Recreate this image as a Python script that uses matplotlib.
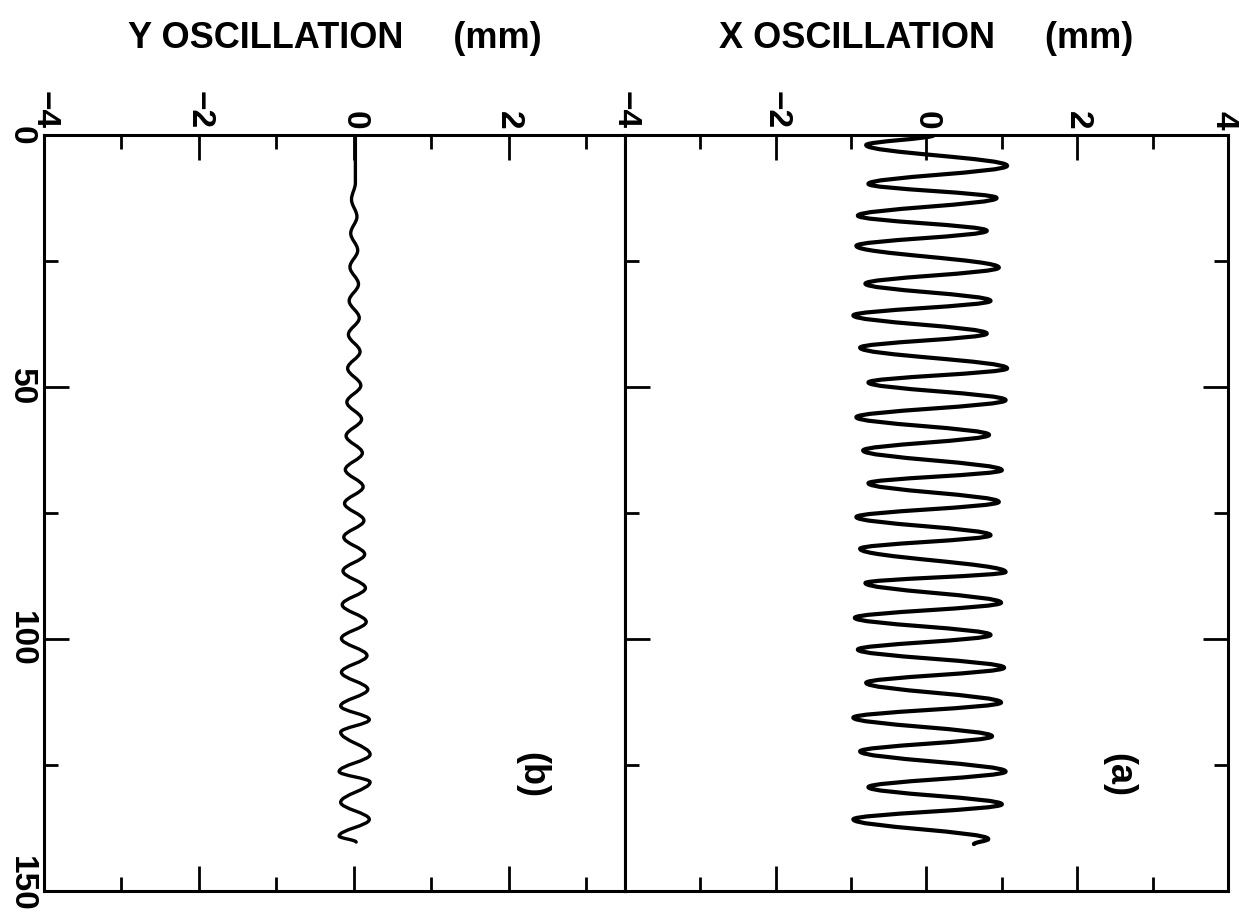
import matplotlib.pyplot as plt
from matplotlib.path import Path
from matplotlib.patches import PathPatch
from matplotlib.transforms import ScaledTranslation

plt.rcParams['font.family'] = ['Liberation Sans', 'DejaVu Sans']

time_major = [0, 50, 100, 150]
time_minor = [25, 75, 125]
mm_major_a = [-4, -2, 0, 2, 4]
mm_major_b = [-4, -2, 0, 2]
mm_minor = [-3, -1, 1, 3]

# turning points of the X oscillation, panel (a)  (time, mm)
x_time = [0.0, 2.0, 6.1, 9.7, 12.5, 16.0, 19.0, 22.0, 26.3, 29.5,
          32.9, 35.8, 39.4, 42.2, 46.3, 49.1, 52.6, 56.0, 59.5, 62.6,
          66.5, 69.1, 72.8, 75.8, 79.4, 82.1, 86.7, 88.9, 92.8, 95.8,
          99.2, 102.1, 105.7, 108.7, 112.6, 115.6, 119.3, 122.3, 126.3, 129.4,
          132.8, 135.8, 139.7, 140.7]
x_mm = [0.1, -0.80, 1.07, -0.77, 0.93, -0.91, 0.80, -0.93, 0.96, -0.81,
        0.85, -0.97, 0.80, -0.88, 1.07, -0.77, 1.05, -0.93, 0.83, -0.84,
        1.00, -0.77, 0.96, -0.93, 0.85, -0.88, 1.05, -0.81, 0.99, -0.95,
        0.85, -0.91, 1.03, -0.80, 0.99, -0.97, 0.87, -0.88, 1.05, -0.77,
        1.00, -0.97, 0.82, 0.63]

# turning points of the Y oscillation, panel (b)
y_time = [0.0, 9.5, 12.8, 16.2, 19.5, 22.9, 26.2, 29.6, 32.9, 36.3,
          39.6, 43.0, 46.3, 49.7, 53.0, 56.4, 59.7, 63.1, 66.4, 69.8,
          73.1, 76.5, 79.8, 83.2, 86.5, 89.9, 93.2, 96.6, 99.9, 103.3,
          106.6, 110.0, 113.3, 116.0, 118.5, 122.9, 126.3, 128.4, 132.4, 135.8,
          139.1, 140.3]
y_mm = [0.02, 0.02, -0.03, 0.04, -0.04, 0.05, -0.05, 0.06, -0.06, 0.07,
        -0.07, 0.08, -0.08, 0.09, -0.09, 0.10, -0.10, 0.11, -0.11, 0.12,
        -0.12, 0.13, -0.13, 0.14, -0.14, 0.15, -0.15, 0.16, -0.16, 0.17,
        -0.16, 0.18, -0.17, 0.20, -0.17, 0.21, -0.19, 0.21, -0.17, 0.20,
        -0.19, 0.03]


def wave(ax, t, v, lw):
    # half waves between turning points as cubic beziers
    verts = [(v[0], t[0])]
    codes = [Path.MOVETO]
    for i in range(len(t) - 1):
        dt = t[i + 1] - t[i]
        verts += [(v[i], t[i] + 0.364 * dt), (v[i + 1], t[i + 1] - 0.364 * dt), (v[i + 1], t[i + 1])]
        codes += [Path.CURVE4] * 3
    ax.add_patch(PathPatch(Path(verts, codes), fill=False, lw=lw, ec='black',
                           capstyle='round', joinstyle='round'))


fig = plt.figure(figsize=(12.39, 9.14), dpi=100)
axb = fig.add_axes([0.0355, 0.0252, 0.4689, 0.8271])
axa = fig.add_axes([0.5044, 0.0252, 0.4867, 0.8271])

for ax in (axb, axa):
    ax.set_ylim(150, 0)
    ax.set_yticks(time_major)
    ax.set_yticks(time_minor, minor=True)
    ax.set_xticks(mm_minor, minor=True)
    ax.tick_params(which='both', direction='in', width=2, top=True, bottom=True,
                   labeltop=True, labelbottom=False)
    ax.tick_params(which='major', length=18)
    ax.tick_params(which='minor', length=10)
    ax.tick_params(axis='x', labelrotation=-90, labelsize=24, pad=4)
    ax.tick_params(axis='y', labelrotation=-90, labelsize=24, pad=5)
    for s in ax.spines.values():
        s.set_linewidth(2.2)

axb.set_xlim(-4, 3.5)
axb.set_xticks(mm_major_b)
axb.tick_params(axis='y', which='both', left=True, right=False, labelleft=True)
axa.set_xlim(-4, 4)
axa.set_xticks(mm_major_a)
axa.tick_params(axis='y', which='both', left=True, right=True, labelleft=False)

for ax in (axb, axa):
    for lab in ax.get_xticklabels() + ax.get_yticklabels():
        lab.set_fontweight('bold')
    for lab in ax.get_yticklabels():
        lab.set_va('center')

# keep the end labels inside the page
lab = axb.yaxis.get_major_ticks()[-1].label1
lab.set_transform(lab.get_transform() + ScaledTranslation(0, 0.07, fig.dpi_scale_trans))
lab = axa.xaxis.get_major_ticks()[-1].label2
lab.set_transform(lab.get_transform() + ScaledTranslation(-0.04, 0, fig.dpi_scale_trans))

wave(axa, x_time, x_mm, 3.0)
wave(axb, y_time, y_mm, 2.4)

axa.text(2.55, 127, '(a)', rotation=-90, ha='center', va='center', fontsize=26, fontweight='bold')
axb.text(2.3, 127, '(b)', rotation=-90, ha='center', va='center', fontsize=26, fontweight='bold')

fig.text(0.0355 + 0.4689 / 2, 1 - 38 / 914, 'Y OSCILLATION     (mm)', ha='center', va='center',
         fontsize=26, fontweight='bold')
fig.text(0.5044 + 0.4867 / 2, 1 - 38 / 914, 'X OSCILLATION     (mm)', ha='center', va='center',
         fontsize=26, fontweight='bold')

fig.savefig('out.png', dpi=100)
